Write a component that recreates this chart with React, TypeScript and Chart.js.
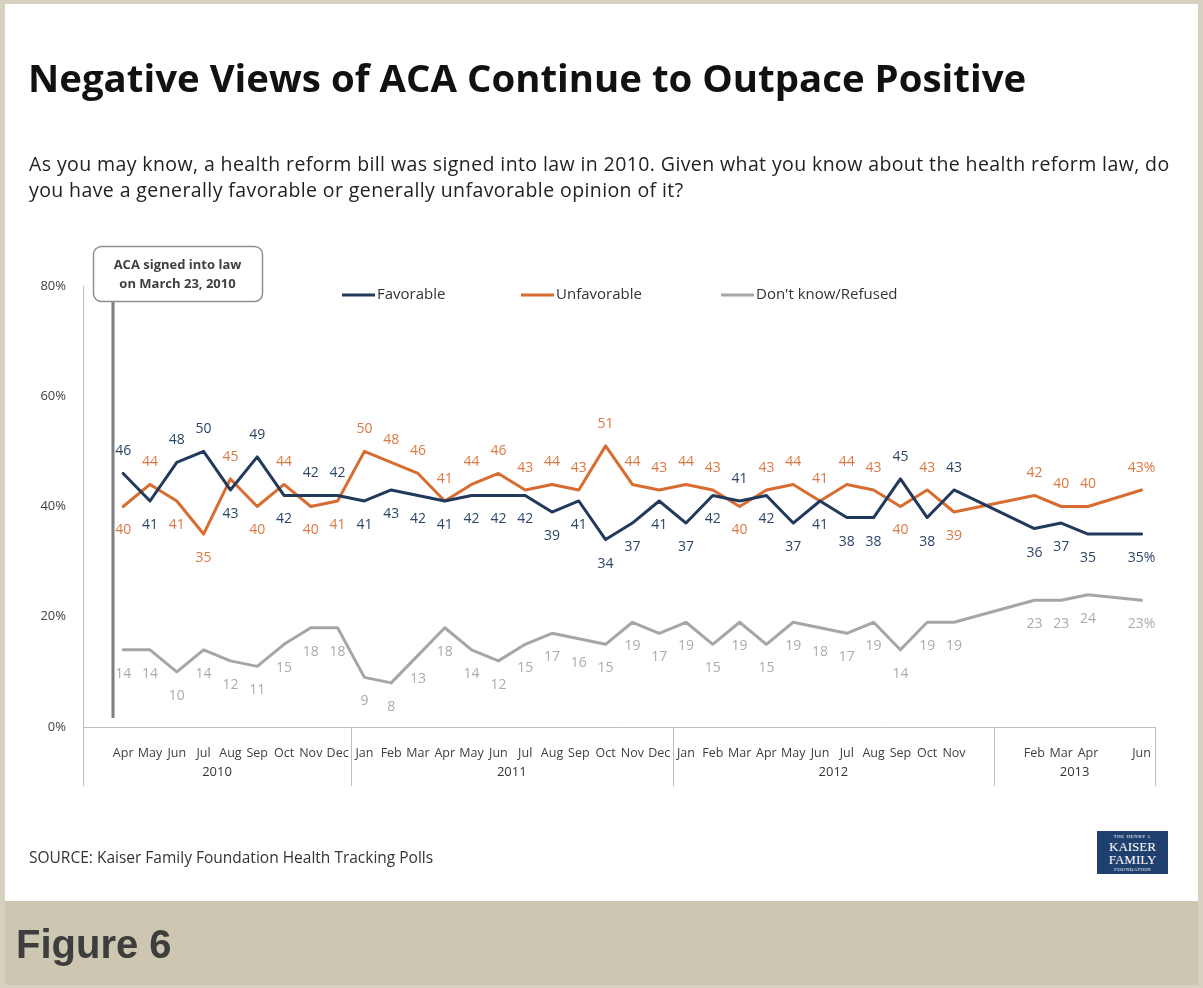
import React, { useEffect, useRef } from "react";
import { Chart, registerables } from "chart.js";

Chart.register(...registerables);

// ---------- DATA ----------
const MONTHS = [
  "", "Apr", "May", "Jun", "Jul", "Aug", "Sep", "Oct", "Nov", "Dec",
  "Jan", "Feb", "Mar", "Apr", "May", "Jun", "Jul", "Aug", "Sep", "Oct", "Nov", "Dec",
  "Jan", "Feb", "Mar", "Apr", "May", "Jun", "Jul", "Aug", "Sep", "Oct", "Nov", "",
  "", "Feb", "Mar", "Apr", "", "Jun",
];
const YEARS = ["2010", "2011", "2012", "2013"];
const YEAR_MONTH_COUNTS = [10, 12, 12, 6];

const FAVORABLE = [
  null, 46, 41, 48, 50, 43, 49, 42, 42, 42,
  41, 43, 42, 41, 42, 42, 42, 39, 41, 34, 37, 41,
  37, 42, 41, 42, 37, 41, 38, 38, 45, 38, 43, null,
  null, 36, 37, 35, null, 35,
];
const UNFAVORABLE = [
  null, 40, 44, 41, 35, 45, 40, 44, 40, 41,
  50, 48, 46, 41, 44, 46, 43, 44, 43, 51, 44, 43,
  44, 43, 40, 43, 44, 41, 44, 43, 40, 43, 39, null,
  null, 42, 40, 40, null, 43,
];
const DONT_KNOW = [
  null, 14, 14, 10, 14, 12, 11, 15, 18, 18,
  9, 8, 13, 18, 14, 12, 15, 17, 16, 15, 19, 17,
  19, 15, 19, 15, 19, 18, 17, 19, 14, 19, 19, null,
  null, 23, 23, 24, null, 23,
];
const SERIES_NAMES = ["Favorable", "Unfavorable", "Don't know/Refused"];
const Y_MIN = 0;
const Y_MAX = 80;
const Y_STEP = 20;

// ---------- STYLE ----------
const LINE_COLORS = ["#213a5c", "#d86d31", "#a6a6a6"];
const LABEL_COLORS = ["#2c4567", "#dc7843", "#ababab"];
// label placement per point: a = above, b = below
const LABEL_SIDES = [
  "-abaababaa" + "bbbbbbbbbbbb" + "bbabbbbbaba-" + "-bbb-b",
  "-babbababb" + "aaaaaaaaaaaa" + "aabaaaaabab-" + "-aaa-a",
  "-bbbbbbbbb" + "bbbbbbbbbbbb" + "bbbbbbbbbbb-" + "-bbb-b",
];
const FONT = '"Open Sans", "Noto Sans", sans-serif';
const NARROW = '"Liberation Sans Narrow", "Arial Narrow", "Open Sans", sans-serif';

const pointLabelPlugin = {
  id: "pointLabels",
  afterDatasetsDraw(chart: any) {
    const ctx = chart.ctx;
    ctx.save();
    ctx.font = `14px ${FONT}`;
    ctx.textAlign = "center";
    ctx.textBaseline = "middle";
    chart.data.datasets.forEach((ds: any, di: number) => {
      const meta = chart.getDatasetMeta(di);
      let lastIdx = -1;
      ds.data.forEach((v: any, i: number) => {
        if (v != null) lastIdx = i;
      });
      meta.data.forEach((pt: any, i: number) => {
        const v = ds.data[i];
        if (v == null) return;
        const side = LABEL_SIDES[di][i];
        const y = pt.y + (side === "a" ? -22 : 24);
        ctx.fillStyle = LABEL_COLORS[di];
        ctx.fillText(String(v) + (i === lastIdx ? "%" : ""), pt.x, y);
      });
    });
    ctx.restore();
  },
};

const decorPlugin = {
  id: "decor",
  afterDraw(chart: any) {
    const ctx = chart.ctx;
    const area = chart.chartArea;
    const xs = chart.scales.x;
    const step = xs.getPixelForValue(1) - xs.getPixelForValue(0);

    // year groups: dividers + labels
    ctx.save();
    ctx.strokeStyle = "#bfbfbf";
    ctx.lineWidth = 1;
    ctx.fillStyle = "#333333";
    ctx.font = `13px ${NARROW}`;
    ctx.textAlign = "center";
    ctx.textBaseline = "middle";
    let start = 0;
    const firstLeft = Math.round(xs.getPixelForValue(0) - step / 2) + 0.5;
    ctx.beginPath();
    ctx.moveTo(firstLeft, area.bottom);
    ctx.lineTo(firstLeft, area.bottom + 59);
    ctx.stroke();
    YEAR_MONTH_COUNTS.forEach((n, k) => {
      const left = xs.getPixelForValue(start) - step / 2;
      const right = xs.getPixelForValue(start + n - 1) + step / 2;
      const rx = Math.round(right) + 0.5;
      ctx.beginPath();
      ctx.moveTo(rx, area.bottom);
      ctx.lineTo(rx, area.bottom + 59);
      ctx.stroke();
      ctx.fillText(YEARS[k], (left + right) / 2, area.bottom + 45);
      start += n;
    });
    ctx.restore();

    // ACA annotation
    ctx.save();
    const ax = Math.round(xs.getPixelForValue(0) + 0.62 * step);
    ctx.strokeStyle = "#7f7f7f";
    ctx.lineWidth = 3;
    ctx.beginPath();
    ctx.moveTo(ax, area.top + 15);
    ctx.lineTo(ax, area.bottom - 9);
    ctx.stroke();
    const bx = ax - 20;
    const by = area.top - 40;
    const bw = 169;
    const bh = 55;
    ctx.beginPath();
    (ctx as any).roundRect(bx + 0.5, by + 0.5, bw, bh, 8);
    ctx.fillStyle = "#ffffff";
    ctx.fill();
    ctx.strokeStyle = "#8f8f8f";
    ctx.lineWidth = 1.5;
    ctx.stroke();
    ctx.fillStyle = "#404040";
    ctx.font = `bold 13px ${FONT}`;
    ctx.textAlign = "center";
    ctx.textBaseline = "middle";
    ctx.fillText("ACA signed into law", bx + bw / 2, by + 19);
    ctx.fillText("on March 23, 2010", bx + bw / 2, by + 38);
    ctx.restore();

    // legend
    ctx.save();
    const ly = area.top + 9;
    const legendX = [342, 521, 721];
    ctx.font = `15px ${FONT}`;
    ctx.textBaseline = "middle";
    ctx.textAlign = "left";
    SERIES_NAMES.forEach((name, i) => {
      ctx.strokeStyle = LINE_COLORS[i];
      ctx.lineWidth = 3;
      ctx.beginPath();
      ctx.moveTo(legendX[i], ly);
      ctx.lineTo(legendX[i] + 33, ly);
      ctx.stroke();
      ctx.fillStyle = "#333333";
      ctx.fillText(name, legendX[i] + 35, ly);
    });
    ctx.restore();
  },
};

export default function App() {
  const ref = useRef<HTMLCanvasElement>(null);

  useEffect(() => {
    let chart: Chart | null = null;
    let cancelled = false;
    const make = () => {
      if (cancelled || !ref.current) return;
      const datasets = [FAVORABLE, UNFAVORABLE, DONT_KNOW].map((data, i) => ({
        label: SERIES_NAMES[i],
        data,
        borderColor: LINE_COLORS[i],
        backgroundColor: LINE_COLORS[i],
        borderWidth: 3,
        pointRadius: 0,
        pointHoverRadius: 0,
        tension: 0,
        spanGaps: true,
        borderJoinStyle: "round" as const,
        borderCapStyle: "round" as const,
      }));
      chart = new Chart(ref.current, {
        type: "line",
        data: { labels: MONTHS, datasets },
        options: {
          animation: false,
          responsive: false,
          events: [],
          layout: { padding: { left: 33, right: 48, top: 286, bottom: 221 } },
          plugins: { legend: { display: false }, tooltip: { enabled: false } },
          scales: {
            x: {
              type: "category",
              offset: true,
              grid: { display: false },
              border: { display: true, color: "#bfbfbf", width: 1 },
              ticks: {
                autoSkip: false,
                maxRotation: 0,
                minRotation: 0,
                padding: 11,
                color: "#404040",
                font: { family: NARROW, size: 12.5 },
              },
              afterFit: (s: any) => {
                s.height = 40;
              },
            },
            y: {
              min: Y_MIN,
              max: Y_MAX,
              grid: { display: false },
              border: { display: true, color: "#bfbfbf", width: 1 },
              ticks: {
                stepSize: Y_STEP,
                padding: 9,
                color: "#404040",
                font: { family: FONT, size: 13 },
                callback: (v: any) => `${v}%`,
              },
              afterFit: (s: any) => {
                s.width = 50;
              },
            },
          },
        },
        plugins: [pointLabelPlugin, decorPlugin],
      });
    };
    const fonts: any = (document as any).fonts;
    const ready = fonts
      ? Promise.all([
          fonts.load(`14px "Open Sans"`),
          fonts.load(`bold 14px "Open Sans"`),
          fonts.load(`14px "Liberation Sans Narrow"`),
        ]).catch(() => null)
      : Promise.resolve(null);
    ready.then(make);
    return () => {
      cancelled = true;
      if (chart) chart.destroy();
    };
  }, []);

  const abs = (s: React.CSSProperties): React.CSSProperties => ({ position: "absolute", ...s });

  return (
    <div
      style={{
        position: "fixed",
        left: 0,
        top: 0,
        width: 1203,
        height: 988,
        background: "#d6d1c0",
        overflow: "hidden",
      }}
    >
      <div style={abs({ left: 5, top: 4, width: 1193, height: 897, background: "#ffffff" })} />
      <div style={abs({ left: 5, top: 901, width: 1193, height: 84, background: "#cdc7b2" })} />
      <canvas ref={ref} width={1203} height={988} style={abs({ left: 0, top: 0, width: 1203, height: 988 })} />
      <div
        style={abs({
          left: 28,
          top: 58,
          fontFamily: FONT,
          fontWeight: 700,
          fontSize: 38.4,
          lineHeight: "38px",
          color: "#111111",
          whiteSpace: "nowrap",
        })}
      >
        Negative Views of ACA Continue to Outpace Positive
      </div>
      <div
        style={abs({
          left: 29,
          top: 151,
          fontFamily: FONT,
          fontSize: 19.5,
          letterSpacing: 0.4,
          lineHeight: "26px",
          color: "#222222",
          whiteSpace: "nowrap",
        })}
      >
        As you may know, a health reform bill was signed into law in 2010. Given what you know about the health reform law, do
        <br />
        you have a generally favorable or generally unfavorable opinion of it?
      </div>
      <div
        style={abs({
          left: 29,
          top: 849,
          fontFamily: FONT,
          fontSize: 15.5,
          lineHeight: "16px",
          color: "#333333",
          whiteSpace: "nowrap",
        })}
      >
        SOURCE: Kaiser Family Foundation Health Tracking Polls
      </div>
      <div
        style={abs({
          left: 1097,
          top: 831,
          width: 71,
          height: 43,
          background: "#1f3f6e",
          color: "#ffffff",
          fontFamily: '"Liberation Serif", "DejaVu Serif", serif',
          textAlign: "center",
          lineHeight: 1,
        })}
      >
        <div style={{ fontSize: 5, marginTop: 3, letterSpacing: 0.5 }}>THE HENRY J.</div>
        <div style={{ fontSize: 13, marginTop: 1 }}>KAISER</div>
        <div style={{ fontSize: 13 }}>FAMILY</div>
        <div style={{ fontSize: 5, marginTop: 1, letterSpacing: 0.5 }}>FOUNDATION</div>
      </div>
      <div
        style={abs({
          left: 16,
          top: 924,
          fontFamily: '"Liberation Sans", Arial, sans-serif',
          fontWeight: 700,
          fontSize: 40,
          lineHeight: "40px",
          color: "#3d3d3d",
          whiteSpace: "nowrap",
        })}
      >
        Figure 6
      </div>
    </div>
  );
}
